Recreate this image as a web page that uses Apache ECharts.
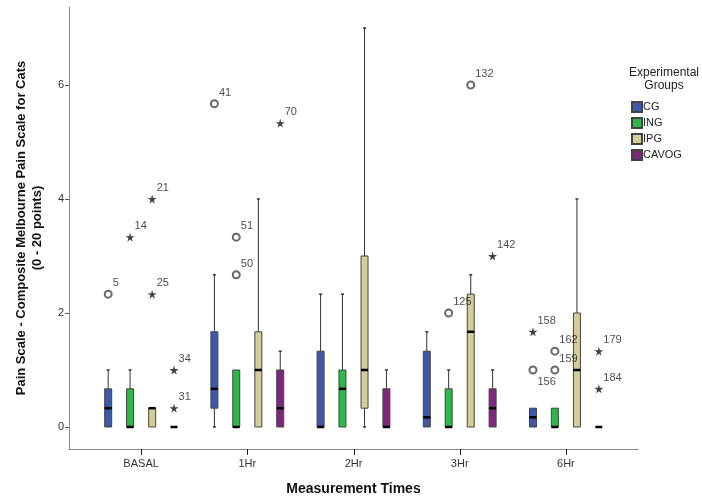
<!DOCTYPE html>
<html>
<head>
<meta charset="utf-8">
<script src="https://cdn.jsdelivr.net/npm/echarts@6/dist/echarts.min.js"></script>
<style>
  html, body { margin: 0; padding: 0; background: #fff; }
</style>
</head>
<body>
<div id="main" style="width: 702px;height:501px;"></div>
<script type="text/javascript">
  // categories and groups
  var categories = ['BASAL', '1Hr', '2Hr', '3Hr', '6Hr'];
  var groups = ['CG', 'ING', 'IPG', 'CAVOG'];

  // box stats per measurement time: [min, q1, median, q3, max]
  var cgBox = [
    [0, 0, 0.33, 0.67, 1],
    [0, 0.33, 0.67, 1.67, 2.67],
    [0, 0, 0, 1.33, 2.33],
    [0, 0, 0.17, 1.33, 1.67],
    [0, 0, 0.17, 0.33, 0.33]
  ];
  var ingBox = [
    [0, 0, 0, 0.67, 1],
    [0, 0, 0, 1, 1],
    [0, 0, 0.67, 1, 2.33],
    [0, 0, 0, 0.67, 1],
    [0, 0, 0, 0.33, 0.33]
  ];
  var ipgBox = [
    [0, 0, 0.33, 0.33, 0.33],
    [0, 0, 1, 1.67, 4],
    [0, 0.33, 1, 3, 7],
    [0, 0, 1.67, 2.33, 2.67],
    [0, 0, 1, 2, 4]
  ];
  var cavogBox = [
    [0, 0, 0, 0, 0],
    [0, 0, 0.33, 1, 1.33],
    [0, 0, 0, 0.67, 1],
    [0, 0, 0.33, 0.67, 1],
    [0, 0, 0, 0, 0]
  ];

  // outliers (circle = outlier, star = extreme)
  var outlierCat   = [0, 0, 0, 0, 0, 0, 1, 1, 1, 1, 3, 3, 3, 4, 4, 4, 4, 4, 4];
  var outlierGroup = [0, 1, 2, 2, 3, 3, 0, 1, 1, 3, 1, 2, 3, 0, 0, 1, 1, 3, 3];
  var outlierValue = [2.33, 3.33, 4, 2.33, 1, 0.33, 5.67, 3.33, 2.67, 5.33, 2, 6, 3, 1.67, 1, 1.33, 1, 1.33, 0.67];
  var outlierId    = ['5', '14', '21', '25', '34', '31', '41', '51', '50', '70', '125', '132', '142', '158', '156', '162', '159', '179', '184'];
  var outlierStar  = [false, true, true, true, true, true, false, false, false, true, false, false, true, true, false, false, false, true, true];

  var xTicks = [0, 1, 2, 3, 4];
  var yTicks = [0, 2, 4, 6];
  var yMinVal = -0.386, yMaxVal = 7.368;

  // styles
  var boxData = [cgBox, ingBox, ipgBox, cavogBox];
  var colors = ['#3e58ac', '#2eb848', '#d3ce97', '#7c287d'];
  var offsets = [-0.31, -0.104, 0.104, 0.31];
  var labelOffset = { '156': [0, 12] };
  var FONT = 'Liberation Sans, Arial, sans-serif';
  var starPath = 'path://M50,0 L61,35 L98,35 L68,57 L79,91 L50,70 L21,91 L32,57 L2,35 L39,35 Z';

  function renderBox(gi) {
    return function (params, api) {
      var cat = api.value(0);
      var xc = api.coord([cat + offsets[gi], 0])[0];
      var yMin = api.coord([0, api.value(1)])[1];
      var yQ1 = api.coord([0, api.value(2)])[1];
      var yMed = api.coord([0, api.value(3)])[1];
      var yQ3 = api.coord([0, api.value(4)])[1];
      var yMax = api.coord([0, api.value(5)])[1];
      var half = 3.5, cap = 1.5;
      var line = { stroke: '#333', lineWidth: 1 };
      var ch = [];
      if (yMax < yQ3) {
        ch.push({ type: 'line', shape: { x1: xc, y1: yMax, x2: xc, y2: yQ3 }, style: line });
        ch.push({ type: 'line', shape: { x1: xc - cap, y1: yMax, x2: xc + cap, y2: yMax }, style: { stroke: '#333', lineWidth: 1.5 } });
      }
      if (yMin > yQ1) {
        ch.push({ type: 'line', shape: { x1: xc, y1: yQ1, x2: xc, y2: yMin }, style: line });
        ch.push({ type: 'line', shape: { x1: xc - cap, y1: yMin, x2: xc + cap, y2: yMin }, style: { stroke: '#333', lineWidth: 1.5 } });
      }
      if (yQ1 - yQ3 > 0.5) {
        ch.push({ type: 'rect', shape: { x: xc - half, y: yQ3, width: half * 2, height: yQ1 - yQ3 },
          style: { fill: colors[gi], stroke: '#444', lineWidth: 1 } });
      }
      ch.push({ type: 'line', shape: { x1: xc - half, y1: yMed, x2: xc + half, y2: yMed },
        style: { stroke: '#000', lineWidth: 2.5 } });
      return { type: 'group', children: ch };
    };
  }

  var series = [];
  groups.forEach(function (g, gi) {
    series.push({
      name: g,
      type: 'custom',
      renderItem: renderBox(gi),
      itemStyle: { color: colors[gi], borderColor: '#444', borderWidth: 1 },
      encode: { x: 0, y: [1, 2, 3, 4, 5] },
      data: boxData[gi].map(function (b, ci) { return [ci].concat(b); }),
      z: 2
    });
  });

  function outlierPoints(star) {
    var pts = [];
    for (var i = 0; i < outlierId.length; i++) {
      if (outlierStar[i] !== star) continue;
      pts.push({
        value: [outlierCat[i] + offsets[outlierGroup[i]], outlierValue[i]],
        name: outlierId[i],
        label: { offset: labelOffset[outlierId[i]] || [0, -11] }
      });
    }
    return pts;
  }

  var labelCommon = {
    show: true, position: 'right', distance: 0,
    formatter: '{b}', color: '#1a1a1a', fontSize: 11, fontFamily: FONT
  };

  series.push({
    type: 'scatter', symbol: 'emptyCircle', symbolSize: 7,
    itemStyle: { color: '#444', borderColor: '#444', borderWidth: 1 },
    label: labelCommon, data: outlierPoints(false), z: 3
  });
  series.push({
    type: 'scatter', symbol: starPath, symbolSize: 9,
    itemStyle: { color: '#111' },
    label: labelCommon, data: outlierPoints(true), z: 3
  });

  var myChart = echarts.init(document.getElementById('main'));
  var option = {
    animation: false,
    textStyle: { fontFamily: FONT },
    title: {
      text: 'Experimental\nGroups',
      left: 659, top: 61, textAlign: 'center',
      textStyle: { fontSize: 12, fontWeight: 'normal', color: '#222', lineHeight: 13, fontFamily: FONT }
    },
    legend: {
      data: groups, orient: 'vertical', left: 631, top: 101,
      icon: 'rect', itemWidth: 10, itemHeight: 10, itemGap: 4, padding: 0,
      textStyle: { fontSize: 11, color: '#222', fontFamily: FONT, padding: [0, 0, 0, -4] }
    },
    grid: { left: 69, right: 64, top: 7, bottom: 52 },
    xAxis: {
      type: 'value', min: -0.679, max: 4.679,
      name: 'Measurement Times', nameLocation: 'middle', nameGap: 33,
      nameTextStyle: { fontSize: 14, fontWeight: 'bold', color: '#111', fontFamily: FONT },
      axisLine: { onZero: false, lineStyle: { color: '#888' } },
      axisLabel: {
        customValues: xTicks, margin: 9, fontSize: 11, color: '#333',
        formatter: function (v) { return categories[Math.round(v)]; }
      },
      axisTick: { show: false },
      splitLine: { show: false }
    },
    yAxis: {
      type: 'value', min: yMinVal, max: yMaxVal,
      name: 'Pain Scale - Composite Melbourne Pain Scale for Cats\n(0 - 20 points)',
      nameLocation: 'middle', nameGap: 24, nameRotate: 90,
      nameTextStyle: { fontSize: 13, fontWeight: 'bold', color: '#111', lineHeight: 16, fontFamily: FONT },
      axisLine: { show: true, onZero: false, lineStyle: { color: '#888' } },
      axisTick: { show: true, length: 4, customValues: yTicks, lineStyle: { color: '#555' } },
      axisLabel: { customValues: yTicks, margin: 5, fontSize: 11, color: '#333' },
      splitLine: { show: false }
    },
    series: series
  };
  myChart.setOption(option);

  // category tick marks below the x axis, placed through the axis scale
  var tickGraphics = xTicks.map(function (v) {
    var p = myChart.convertToPixel({ xAxisIndex: 0, yAxisIndex: 0 }, [v, yMinVal]);
    return {
      type: 'line', silent: true, z: 10,
      shape: { x1: Math.round(p[0]) + 0.5, y1: p[1], x2: Math.round(p[0]) + 0.5, y2: p[1] + 6 },
      style: { stroke: '#222', lineWidth: 1 }
    };
  });
  myChart.setOption({ graphic: tickGraphics });
</script>
</body>
</html>
